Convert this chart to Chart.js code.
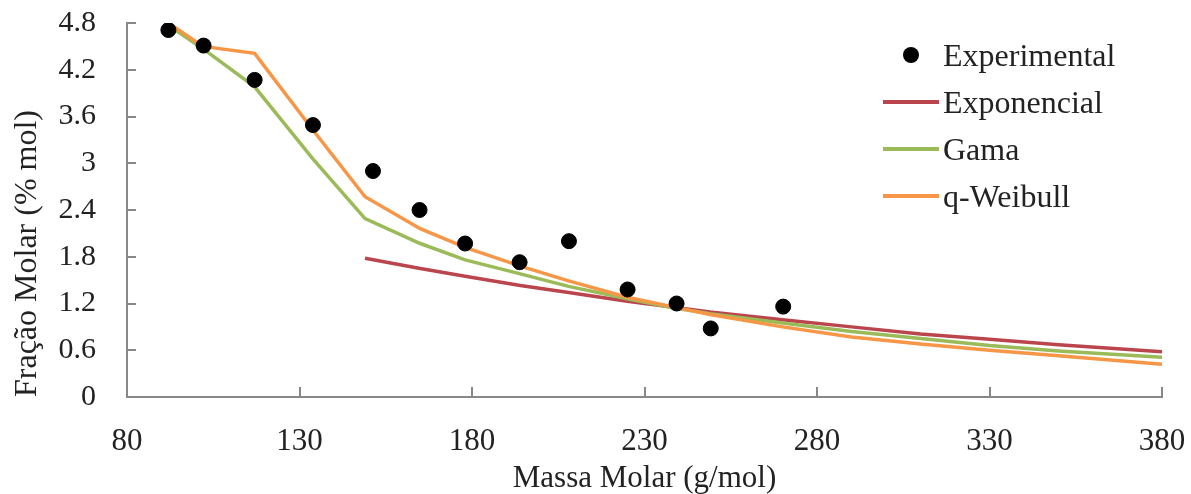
<!DOCTYPE html>
<html>
<head>
<meta charset="utf-8">
<script src="https://cdn.jsdelivr.net/npm/chart.js@4.4.1/dist/chart.umd.min.js"></script>
<style>
  body { margin: 0; background: #fff; }
  #wrap { position: relative; width: 1191px; height: 494px; }
  #legend { position: absolute; left: 883px; top: 32px; font-family: "Liberation Serif", serif; font-size: 32px; color: #222; }
  #legend .row { height: 47px; line-height: 47px; display: flex; align-items: center; }
  #legend .mark { width: 56px; height: 47px; position: relative; margin-right: 4px; }
  #legend .dot { position: absolute; left: 20px; top: 15px; width: 16px; height: 16px; border-radius: 50%; background: #000; }
  #legend .line { position: absolute; left: 0; right: 0; top: 21px; height: 4px; }
</style>
</head>
<body>
<div id="wrap">
  <canvas id="myChart"></canvas>
  <div id="legend"></div>
</div>
<script>
// valores
var expX = [92.0, 102.2, 117.0, 133.9, 151.3, 164.8, 178.0, 193.8, 208.1, 225.1, 239.3, 249.2, 270.2];
var expY = [4.71, 4.51, 4.07, 3.49, 2.90, 2.40, 1.97, 1.73, 2.00, 1.38, 1.20, 0.88, 1.16];

var modelX = [92, 102, 117, 134, 149, 165, 178, 194, 208, 225, 239, 249, 270, 290, 310, 330, 350, 380];
var expoY  = [null, null, null, null, 1.78, 1.65, 1.55, 1.43, 1.34, 1.23, 1.15, 1.09, 0.99, 0.90, 0.81, 0.74, 0.67, 0.58];
var gamaY  = [4.77, 4.47, 3.98, 3.05, 2.29, 1.97, 1.76, 1.58, 1.42, 1.26, 1.14, 1.07, 0.95, 0.84, 0.75, 0.66, 0.59, 0.51];
var weibY  = [4.80, 4.50, 4.41, 3.42, 2.57, 2.16, 1.92, 1.68, 1.49, 1.28, 1.15, 1.06, 0.90, 0.77, 0.68, 0.60, 0.53, 0.42];

var xTicks = [80, 130, 180, 230, 280, 330, 380];
var yTicks = [0, 0.6, 1.2, 1.8, 2.4, 3, 3.6, 4.2, 4.8];

function pts(xs, ys) {
  return xs.map(function (x, i) { return { x: x, y: ys[i] }; });
}

// marcas de escala para dentro
var innerTicks = {
  id: 'innerTicks',
  afterDraw: function (chart) {
    var ctx = chart.ctx, a = chart.chartArea;
    var xs = chart.scales.x, ys = chart.scales.y;
    ctx.save();
    ctx.strokeStyle = '#888';
    ctx.lineWidth = 2;
    ctx.beginPath();
    xs.ticks.forEach(function (t) {
      var px = Math.round(xs.getPixelForValue(t.value));
      if (t.value === xTicks[0]) return;
      ctx.moveTo(px, a.bottom);
      ctx.lineTo(px, a.bottom - 10);
    });
    ys.ticks.forEach(function (t) {
      var py = Math.round(ys.getPixelForValue(t.value));
      if (t.value === yTicks[0]) return;
      ctx.moveTo(a.left, py);
      ctx.lineTo(a.left + 9, py);
    });
    ctx.stroke();
    ctx.restore();
  }
};

var ctx = document.getElementById("myChart").getContext('2d');
var myChart = new Chart(ctx, {
  type: 'scatter',
  data: {
    datasets: [{
      label: "Experimental",
      data: pts(expX, expY),
      backgroundColor: '#000',
      borderColor: '#000',
      pointRadius: 7.5,
      pointHoverRadius: 7.5,
      order: 0
    }, {
      label: "Exponencial",
      data: pts(modelX, expoY),
      showLine: true,
      borderColor: '#BA454C',
      borderWidth: 3.5,
      pointRadius: 0,
      tension: 0,
      order: 3
    }, {
      label: "Gama",
      data: pts(modelX, gamaY),
      showLine: true,
      borderColor: '#9BBB59',
      borderWidth: 3.5,
      pointRadius: 0,
      tension: 0,
      order: 2
    }, {
      label: "q-Weibull",
      data: pts(modelX, weibY),
      showLine: true,
      borderColor: '#F79646',
      borderWidth: 3.5,
      pointRadius: 0,
      tension: 0,
      order: 1
    }]
  },
  options: {
    responsive: true,
    maintainAspectRatio: false,
    animation: false,
    layout: {
      padding: { top: 23, right: 29, left: 0, bottom: 0 }
    },
    plugins: {
      legend: { display: false },
      tooltip: { enabled: false }
    },
    scales: {
      x: {
        type: 'linear',
        min: 80,
        max: 380,
        afterBuildTicks: function (scale) {
          scale.ticks = xTicks.map(function (v) { return { value: v }; });
        },
        afterFit: function (scale) {
          scale.height = 97;
          scale.paddingLeft = 0;
          scale.paddingRight = 0;
        },
        ticks: {
          color: '#222',
          padding: 18,
          maxRotation: 0,
          font: { family: 'Liberation Serif', size: 31 },
          callback: function (v) { return String(v); }
        },
        grid: { display: false },
        border: { color: '#888', width: 2 },
        title: {
          display: true,
          text: 'Massa Molar (g/mol)',
          color: '#222',
          padding: 0,
          font: { family: 'Liberation Serif', size: 31, lineHeight: 1 }
        }
      },
      y: {
        min: 0,
        max: 4.8,
        afterBuildTicks: function (scale) {
          scale.ticks = yTicks.map(function (v) { return { value: v }; });
        },
        afterFit: function (scale) {
          scale.width = 127;
          scale.paddingTop = 0;
          scale.paddingBottom = 0;
        },
        ticks: {
          color: '#222',
          padding: 23,
          font: { family: 'Liberation Serif', size: 30 },
          callback: function (v) { return String(v); }
        },
        grid: { display: false },
        border: { color: '#888', width: 2 },
        title: {
          display: true,
          text: 'Fração Molar (% mol)',
          align: 'start',
          color: '#222',
          padding: { top: 8, bottom: 0 },
          font: { family: 'Liberation Serif', size: 32 }
        }
      }
    }
  },
  plugins: [innerTicks]
});

// legenda em HTML a partir dos datasets
var leg = document.getElementById('legend');
myChart.data.datasets.forEach(function (ds, i) {
  var row = document.createElement('div');
  row.className = 'row';
  var mark = document.createElement('span');
  mark.className = 'mark';
  var m = document.createElement('span');
  if (i === 0) {
    m.className = 'dot';
  } else {
    m.className = 'line';
    m.style.background = ds.borderColor;
  }
  mark.appendChild(m);
  var txt = document.createElement('span');
  txt.textContent = ds.label;
  row.appendChild(mark);
  row.appendChild(txt);
  leg.appendChild(row);
});
</script>
</body>
</html>
